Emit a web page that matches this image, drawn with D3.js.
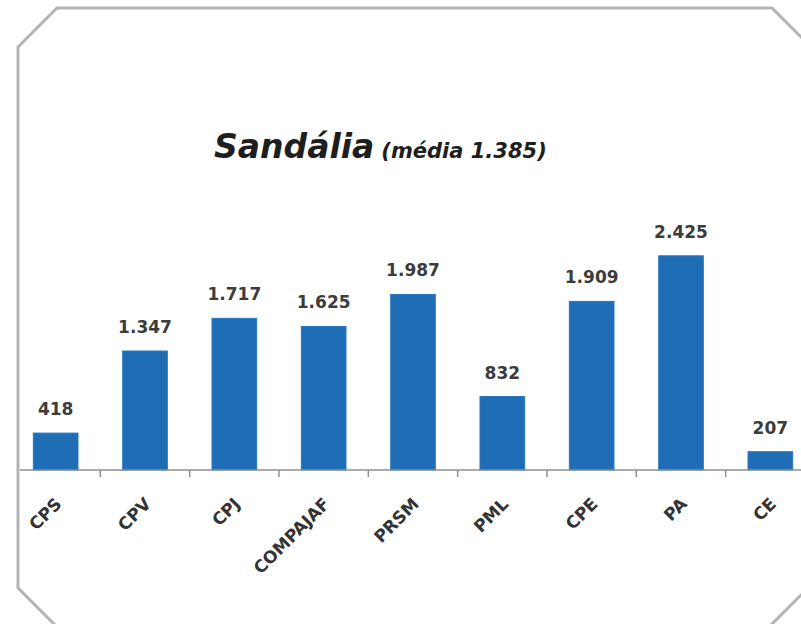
<!DOCTYPE html>
<html>
<head>
<meta charset="utf-8">
<script src="https://cdn.jsdelivr.net/npm/d3@7"></script>
<style>
  html, body { margin: 0; padding: 0; background: #ffffff; }
  svg { display: block; }
</style>
</head>
<body>
<script>
// Average value per unit, "Sandália"
const categories = ["CPS", "CPV", "CPJ", "COMPAJAF", "PRSM", "PML", "CPE", "PA", "CE"];
const values = [418, 1347, 1717, 1625, 1987, 832, 1909, 2425, 207];
const valueLabels = ["418", "1.347", "1.717", "1.625", "1.987", "832", "1.909", "2.425", "207"];
const titleMain = "Sandália";
const titleSub = "(média 1.385)";

const W = 801, H = 624;
const svg = d3.select("body").append("svg")
  .attr("width", W).attr("height", H);

// Frame with chamfered corners
const frame = [[57, 8], [772, 8], [840, 76], [840, 556], [760, 636], [66, 636], [18, 588], [18, 47]];
svg.append("polygon")
  .attr("points", frame.map(p => p.join(",")).join(" "))
  .attr("fill", "#ffffff")
  .attr("stroke", "#b3b3b3")
  .attr("stroke-width", 3);

const x = d3.scaleBand()
  .domain(categories)
  .range([11, 815])
  .paddingInner(0.5)
  .paddingOuter(0.25);

const y = d3.scaleLinear()
  .domain([0, 3000])
  .range([470, 205]);

// Title
const title = svg.append("text")
  .attr("x", 214).attr("y", 158)
  .attr("font-family", "DejaVu Sans")
  .attr("font-weight", "bold")
  .attr("font-style", "italic")
  .attr("fill", "#1e1e1e");
title.append("tspan").attr("font-size", 33).text(titleMain);
title.append("tspan").attr("font-size", 21).attr("dx", 7).text(titleSub);

// Bars
svg.append("g").selectAll("rect")
  .data(values)
  .join("rect")
  .attr("x", (d, i) => x(categories[i]))
  .attr("y", d => y(d))
  .attr("width", x.bandwidth())
  .attr("height", d => y(0) - y(d))
  .attr("fill", "#1f6db5")
  .attr("stroke", "#2a78c0")
  .attr("stroke-width", 1);

// Value labels
svg.append("g").selectAll("text")
  .data(values)
  .join("text")
  .attr("x", (d, i) => x(categories[i]) + x.bandwidth() / 2)
  .attr("y", d => y(d) - 18)
  .attr("text-anchor", "middle")
  .attr("font-family", "DejaVu Sans")
  .attr("font-weight", "bold")
  .attr("font-size", 17)
  .attr("fill", "#3c3c3c")
  .text((d, i) => valueLabels[i]);

// Category axis: baseline, boundary ticks, rotated labels
const axis = svg.append("g");
axis.append("line")
  .attr("x1", 20).attr("x2", W)
  .attr("y1", y(0)).attr("y2", y(0))
  .attr("stroke", "#8f8f8f").attr("stroke-width", 1.5);

const gap = x.step() - x.bandwidth();
axis.selectAll("line.tick")
  .data(categories.slice(1))
  .join("line")
  .attr("class", "tick")
  .attr("x1", c => x(c) - gap / 2)
  .attr("x2", c => x(c) - gap / 2)
  .attr("y1", y(0)).attr("y2", y(0) + 7)
  .attr("stroke", "#8f8f8f").attr("stroke-width", 1.5);

axis.selectAll("text")
  .data(categories)
  .join("text")
  .attr("transform", c => `translate(${x(c) + x.bandwidth() / 2 + 7},${y(0) + 35}) rotate(-45)`)
  .attr("text-anchor", "end")
  .attr("font-family", "DejaVu Sans")
  .attr("font-weight", "bold")
  .attr("font-size", 17)
  .attr("fill", "#333333")
  .text(c => c);
</script>
</body>
</html>
